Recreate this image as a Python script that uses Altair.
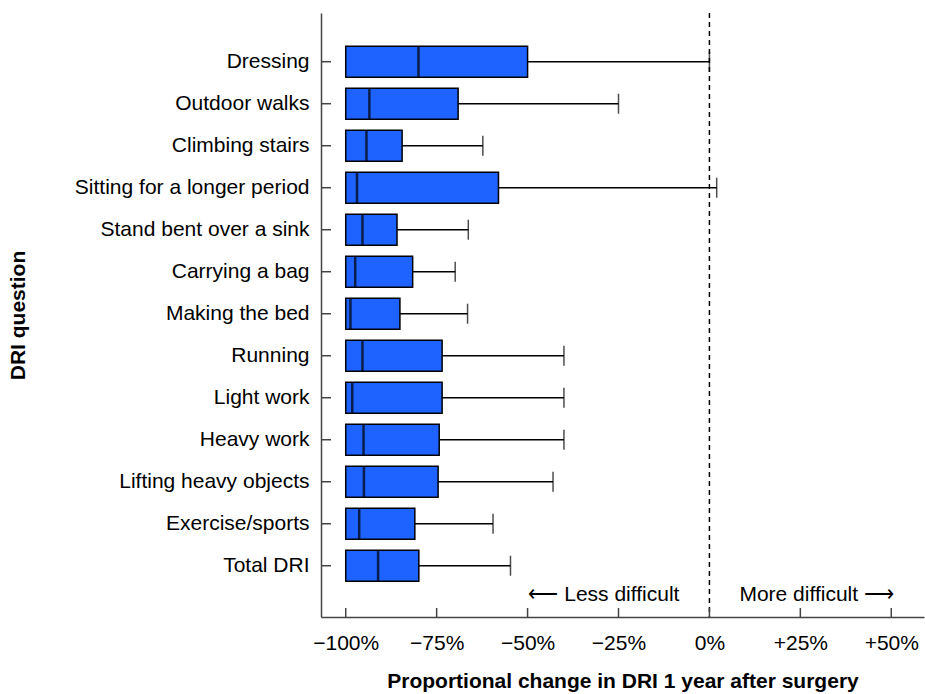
import altair as alt
import pandas as pd

questions = [
    "Dressing", "Outdoor walks", "Climbing stairs", "Sitting for a longer period",
    "Stand bent over a sink", "Carrying a bag", "Making the bed", "Running",
    "Light work", "Heavy work", "Lifting heavy objects", "Exercise/sports", "Total DRI",
]
q1 = [-100, -100, -100, -100, -100, -100, -100, -100, -100, -100, -100, -100, -100]
median = [-80.0, -93.5, -94.3, -96.9, -95.4, -97.4, -98.7, -95.4, -98.2, -95.1, -95.0, -96.3, -91.1]
q3 = [-50.0, -69.1, -84.5, -58.0, -85.9, -81.6, -85.1, -73.5, -73.5, -74.3, -74.6, -81.0, -79.9]
upper = [0.0, -25.0, -62.3, 2.0, -66.3, -69.9, -66.5, -40.0, -40.0, -40.0, -43.0, -59.5, -54.7]
tick_values = [-100, -75, -50, -25, 0, 25, 50]

df = pd.DataFrame({"q": questions, "q1": q1, "med": median, "q3": q3, "hi": upper})
tick_df = pd.DataFrame({"v": tick_values})
zero_df = pd.DataFrame({"v": [0]})
left_note = pd.DataFrame({"v": [0], "label": ["\u27f5 Less difficult"]})
right_note = pd.DataFrame({"v": [0], "label": ["More difficult \u27f6"]})

W, H = 603, 604
FONT = "Liberation Sans"
AX = "#444444"

xscale = alt.Scale(domain=[-106.8, 59], nice=False, zero=False)
yscale = alt.Scale(domain=questions, paddingInner=0, paddingOuter=0.69, align=0.478)

xaxis = alt.Axis(
    values=tick_values, ticks=False, grid=False,
    labelExpr="datum.value > 0 ? '+' + datum.value + '%' : (datum.value < 0 ? '\u2212' + abs(datum.value) + '%' : '0%')",
    labelFontSize=21, labelPadding=15, labelColor="black", labelFont=FONT,
    domainColor=AX, domainWidth=1.5,
    title="Proportional change in DRI 1 year after surgery",
    titleFontSize=21, titleFontWeight="bold", titleFont=FONT, titleColor="black",
    titlePadding=17,
)
yaxis = alt.Axis(
    ticks=False, grid=False, labelPadding=12, labelFontSize=21, labelColor="black",
    labelFont=FONT, labelLimit=0, domainColor=AX, domainWidth=1.5,
    title="DRI question", titleFontSize=21, titleFontWeight="bold", titleFont=FONT,
    titleColor="black", titleAngle=270, titleX=-303, titleY=302,
    titleAlign="center", titleBaseline="middle",
)

y_enc = alt.Y("q:N", scale=yscale, axis=yaxis, sort=questions)
y_plain = alt.Y("q:N", scale=yscale, sort=questions)

zero_line = alt.Chart(zero_df).mark_rule(color="black", strokeWidth=1.5, strokeDash=[5, 4]).encode(
    x=alt.X("v:Q", scale=xscale), y=alt.value(0), y2=alt.value(H)
)
whisker = alt.Chart(df).mark_rule(color="black", strokeWidth=1.5).encode(
    x=alt.X("q3:Q", scale=xscale), x2="hi:Q", y=y_plain
)
box = alt.Chart(df).mark_bar(color="#1E63FF", stroke="black", strokeWidth=1.5, size=31).encode(
    x=alt.X("q1:Q", scale=xscale, axis=xaxis), x2="q3:Q", y=y_enc
)
med = alt.Chart(df).mark_tick(color="black", thickness=2.5, size=31).encode(
    x=alt.X("med:Q", scale=xscale), y=y_plain
)
cap = alt.Chart(df).mark_tick(color="black", thickness=1.5, size=20).encode(
    x=alt.X("hi:Q", scale=xscale), y=y_plain
)
xticks = alt.Chart(tick_df).mark_rule(color=AX, strokeWidth=1.5).encode(
    x=alt.X("v:Q", scale=xscale), y=alt.value(H), y2=alt.value(H - 9)
)
yticks = alt.Chart(df).mark_rule(color=AX, strokeWidth=1.5).encode(
    y=y_plain, x=alt.value(0), x2=alt.value(10)
)
note_l = alt.Chart(left_note).mark_text(
    fontSize=21, font=FONT, color="black", align="right", baseline="middle", dx=-30
).encode(x=alt.X("v:Q", scale=xscale), y=alt.value(582), text="label:N")
note_r = alt.Chart(right_note).mark_text(
    fontSize=21, font=FONT, color="black", align="left", baseline="middle", dx=30
).encode(x=alt.X("v:Q", scale=xscale), y=alt.value(582), text="label:N")

chart = alt.layer(
    zero_line, whisker, box, med, cap, xticks, yticks, note_l, note_r
).properties(
    width=W, height=H,
    autosize=alt.AutoSizeParams(type="none"),
    padding={"left": 321, "top": 13, "right": 1, "bottom": 77},
    background="white",
).configure_view(stroke=None)

chart.save("out.html", embed_options={"renderer": "svg", "actions": False})
